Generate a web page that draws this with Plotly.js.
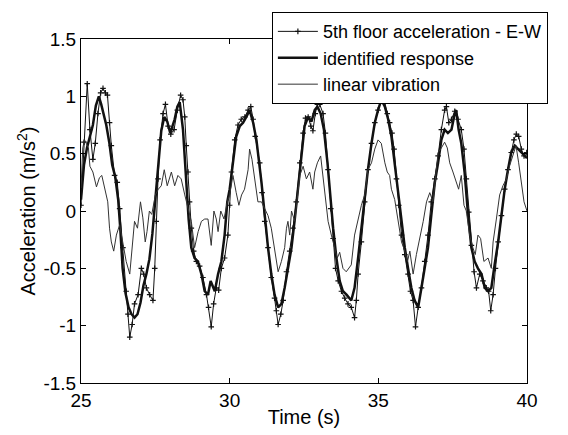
<!DOCTYPE html>
<html>
<head>
<meta charset="utf-8">
<script src="https://cdn.plot.ly/plotly-3.0.1.min.js"></script>
<style>html,body{margin:0;padding:0;background:#fff;}#chart{width:568px;height:435px;}</style>
</head>
<body>
<div id="chart"></div>
<script>
// 5th floor acceleration - E-W (measured, with markers)
const timeMeasured = [25.0,25.1,25.21,25.3,25.4,25.48,25.57,25.66,25.74,25.82,25.89,25.96,26.02,26.13,26.22,26.3,26.41,26.52,26.58,26.64,26.72,26.8,26.92,27.03,27.11,27.2,27.31,27.42,27.48,27.53,27.59,27.66,27.76,27.84,27.93,28.02,28.13,28.24,28.35,28.43,28.49,28.54,28.6,28.65,28.71,28.79,28.88,28.99,29.1,29.22,29.29,29.38,29.46,29.55,29.63,29.72,29.83,29.94,30.0,30.06,30.17,30.28,30.39,30.51,30.62,30.71,30.79,30.86,31.01,31.09,31.18,31.29,31.4,31.51,31.57,31.63,31.72,31.8,31.91,32.02,32.13,32.24,32.36,32.47,32.55,32.64,32.73,32.8,32.88,32.95,33.03,33.14,33.22,33.31,33.4,33.48,33.56,33.65,33.76,33.87,33.98,34.09,34.2,34.26,34.32,34.43,34.54,34.65,34.77,34.88,34.99,35.1,35.16,35.22,35.3,35.38,35.46,35.53,35.61,35.69,35.78,35.89,36.0,36.08,36.17,36.25,36.34,36.45,36.56,36.67,36.78,36.9,37.01,37.12,37.23,37.29,37.37,37.46,37.57,37.68,37.79,37.88,37.96,38.04,38.13,38.22,38.3,38.41,38.52,38.63,38.71,38.78,38.86,38.94,39.03,39.14,39.25,39.36,39.47,39.56,39.64,39.72,39.81,39.9,39.99];
const accelMeasured = [0.05,0.6,1.11,0.71,0.45,0.59,0.85,1.03,1.07,1.03,1.01,0.77,0.57,0.31,0.25,0.02,-0.32,-0.7,-0.9,-1.1,-0.99,-0.81,-0.73,-0.5,-0.55,-0.67,-0.73,-0.78,-0.5,-0.09,0.28,0.62,0.85,0.93,0.74,0.67,0.71,0.88,1.01,0.97,0.82,0.57,0.34,0.08,-0.15,-0.35,-0.44,-0.48,-0.58,-0.73,-0.84,-1.01,-0.81,-0.67,-0.69,-0.5,-0.41,-0.21,0.05,0.34,0.62,0.75,0.8,0.82,0.88,0.91,0.8,0.65,0.42,0.16,-0.09,-0.32,-0.58,-0.76,-0.87,-0.99,-0.9,-0.78,-0.53,-0.35,-0.15,0.08,0.42,0.68,0.81,0.82,0.74,0.7,0.85,0.93,0.93,0.85,0.68,0.36,0.02,-0.24,-0.5,-0.61,-0.7,-0.76,-0.81,-0.84,-0.93,-0.78,-0.55,-0.27,0.08,0.36,0.59,0.77,0.88,0.97,1.01,0.94,0.85,0.77,0.68,0.54,0.28,0.05,-0.21,-0.38,-0.55,-0.7,-0.78,-1.01,-0.84,-0.67,-0.44,-0.21,0.08,0.28,0.48,0.71,0.88,0.91,0.77,0.8,0.87,0.8,0.71,0.54,0.28,-0.01,-0.3,-0.53,-0.67,-0.55,-0.61,-0.67,-0.7,-0.87,-0.73,-0.5,-0.27,-0.04,0.19,0.36,0.51,0.62,0.67,0.65,0.54,0.48,0.51];

// identified response (thick line)
const timeIdentified = [25.0,25.1,25.2,25.3,25.4,25.5,25.6,25.68,25.75,25.85,25.95,26.05,26.15,26.25,26.32,26.4,26.5,26.6,26.7,26.8,26.9,27.0,27.1,27.2,27.3,27.4,27.5,27.6,27.7,27.8,27.9,28.0,28.15,28.24,28.32,28.43,28.54,28.62,28.71,28.82,28.93,29.05,29.16,29.27,29.36,29.5,29.61,29.72,29.83,29.92,30.0,30.11,30.22,30.34,30.45,30.56,30.67,30.79,30.9,31.07,31.18,31.29,31.4,31.51,31.63,31.74,31.85,31.96,32.08,32.19,32.3,32.41,32.52,32.64,32.75,32.86,32.95,33.06,33.17,33.29,33.38,33.48,33.59,33.7,33.81,33.93,34.09,34.2,34.32,34.43,34.54,34.65,34.77,34.88,34.99,35.1,35.22,35.33,35.44,35.55,35.66,35.78,35.89,36.0,36.11,36.22,36.34,36.45,36.56,36.67,36.78,36.9,37.01,37.12,37.23,37.34,37.46,37.57,37.62,37.7,37.79,37.9,38.02,38.13,38.24,38.35,38.47,38.58,38.69,38.8,38.91,39.03,39.14,39.25,39.36,39.47,39.59,39.7,39.81,39.92,40.0];
const accelIdentified = [0.1,0.4,0.55,0.65,0.75,0.92,1.0,0.93,0.85,0.75,0.6,0.4,0.3,0.1,-0.15,-0.5,-0.72,-0.84,-0.9,-0.93,-0.9,-0.8,-0.65,-0.55,-0.42,-0.2,0.1,0.42,0.7,0.82,0.78,0.68,0.8,0.91,0.95,0.71,0.28,-0.07,-0.32,-0.41,-0.44,-0.55,-0.7,-0.73,-0.61,-0.7,-0.55,-0.44,-0.21,0.08,0.19,0.42,0.65,0.74,0.77,0.82,0.88,0.77,0.62,0.25,-0.07,-0.32,-0.55,-0.73,-0.84,-0.81,-0.67,-0.5,-0.32,-0.07,0.19,0.48,0.74,0.82,0.78,0.88,0.91,0.85,0.71,0.42,0.14,-0.15,-0.41,-0.61,-0.7,-0.73,-0.78,-0.67,-0.41,-0.15,0.14,0.36,0.59,0.77,0.88,0.97,0.91,0.8,0.65,0.42,0.14,-0.09,-0.32,-0.5,-0.67,-0.78,-0.84,-0.67,-0.5,-0.32,-0.04,0.25,0.42,0.62,0.71,0.68,0.71,0.85,0.88,0.71,0.59,0.34,-0.04,-0.32,-0.44,-0.5,-0.55,-0.67,-0.7,-0.67,-0.47,-0.27,-0.04,0.19,0.36,0.51,0.57,0.54,0.51,0.48,0.46];

// linear vibration (thin line)
const timeLinear = [25.0,25.06,25.12,25.2,25.25,25.3,25.4,25.52,25.62,25.7,25.8,25.9,25.96,26.02,26.1,26.19,26.3,26.41,26.52,26.64,26.72,26.8,26.9,27.0,27.08,27.16,27.22,27.3,27.38,27.5,27.6,27.7,27.8,27.9,28.04,28.15,28.26,28.37,28.49,28.6,28.71,28.82,28.94,29.05,29.16,29.27,29.38,29.47,29.55,29.61,29.7,29.81,29.92,30.0,30.11,30.22,30.31,30.4,30.5,30.62,30.67,30.75,30.86,30.95,31.07,31.18,31.29,31.4,31.51,31.57,31.63,31.74,31.85,31.91,31.96,32.02,32.08,32.19,32.28,32.36,32.47,32.58,32.69,32.8,32.86,32.95,33.06,33.14,33.2,33.31,33.42,33.53,33.62,33.7,33.81,33.92,34.09,34.2,34.32,34.43,34.54,34.65,34.77,34.88,34.99,35.1,35.22,35.3,35.38,35.44,35.55,35.66,35.78,35.89,35.98,36.06,36.17,36.28,36.4,36.51,36.62,36.73,36.84,36.92,37.01,37.12,37.23,37.32,37.4,37.51,37.63,37.7,37.79,37.88,37.96,38.07,38.18,38.26,38.35,38.44,38.55,38.69,38.8,38.86,38.97,39.08,39.19,39.31,39.41,39.52,39.63,39.72,39.81,39.9,40.0];
const accelLinear = [0.2,0.55,0.62,0.57,0.55,0.39,0.34,0.21,0.29,0.31,0.19,0.08,-0.15,-0.27,-0.35,-0.21,-0.12,-0.3,-0.44,-0.55,-0.32,-0.09,-0.15,0.08,-0.06,-0.27,-0.18,0.0,-0.03,0.14,0.19,0.22,0.36,0.22,0.34,0.22,0.31,0.28,0.14,0.02,-0.09,-0.32,-0.18,-0.09,-0.07,-0.07,-0.3,0.0,-0.07,-0.18,0.0,-0.07,0.08,0.14,0.31,0.16,0.05,0.14,0.19,0.36,0.54,0.45,0.22,0.08,0.08,0.02,-0.04,-0.15,-0.32,-0.44,-0.53,-0.44,-0.32,-0.15,-0.09,-0.21,0.0,-0.09,0.14,0.31,0.39,0.28,0.34,0.19,0.34,0.42,0.48,0.28,0.14,-0.09,-0.21,-0.32,-0.41,-0.36,-0.5,-0.53,-0.47,-0.21,-0.07,0.05,0.14,0.36,0.42,0.54,0.62,0.59,0.42,0.34,0.31,0.19,0.1,-0.07,-0.27,-0.35,-0.44,-0.35,-0.55,-0.38,-0.24,-0.09,0.08,0.16,0.08,0.31,0.51,0.55,0.6,0.55,0.42,0.34,0.25,0.19,0.31,0.05,0.0,-0.21,-0.32,-0.38,-0.21,-0.24,-0.44,-0.41,-0.5,-0.27,-0.07,0.14,0.22,0.28,0.39,0.48,0.57,0.42,0.25,0.08,0.0];

const seriesNames = ['5th floor acceleration - E-W', 'identified response', 'linear vibration'];
const xTicks = [25, 30, 35, 40];
const yTicks = [-1.5, -1, -0.5, 0, 0.5, 1, 1.5];

const FONT = 'Liberation Sans, Arial, Helvetica, sans-serif';

const traces = [
  {x: timeMeasured, y: accelMeasured, name: seriesNames[0], type: 'scatter', mode: 'lines+markers',
   line: {color: '#111', width: 1}, marker: {symbol: 'cross-thin', size: 4, color: '#111', line: {color: '#111', width: 1.2}}},
  {x: timeIdentified, y: accelIdentified, name: seriesNames[1], type: 'scatter', mode: 'lines',
   line: {color: '#111', width: 2.5}},
  {x: timeLinear, y: accelLinear, name: seriesNames[2], type: 'scatter', mode: 'lines',
   line: {color: '#333', width: 1}}
];

const axisCommon = {
  showline: true, mirror: 'ticks', linecolor: '#000', linewidth: 1,
  ticks: 'inside', ticklen: 5, tickcolor: '#000', tickwidth: 1,
  showgrid: false, zeroline: false,
  tickfont: {family: FONT, size: 19, color: '#000'}
};

const layout = {
  width: 568, height: 435,
  margin: {l: 81, r: 41, t: 35, b: 52},
  paper_bgcolor: '#fff', plot_bgcolor: '#fff',
  font: {family: FONT, color: '#000'},
  xaxis: Object.assign({}, axisCommon, {
    range: [25, 40], tickvals: xTicks, ticktext: xTicks.map(String),
    title: {text: 'Time (s)', font: {family: FONT, size: 20, color: '#000'}, standoff: 0}
  }),
  yaxis: Object.assign({}, axisCommon, {
    range: [-1.5, 1.5], tickvals: yTicks, ticktext: yTicks.map(String),
    title: {text: 'Acceleration (m/s<sup>2</sup>)', font: {family: FONT, size: 20, color: '#000'}, standoff: 2}
  }),
  showlegend: true,
  legend: {
    x: 0.428, y: 1.078, xanchor: 'left', yanchor: 'top',
    bgcolor: '#fff', bordercolor: '#000', borderwidth: 1,
    font: {family: FONT, size: 18, color: '#000'},
    tracegroupgap: 0, itemwidth: 40
  }
};

Plotly.newPlot('chart', traces, layout, {displayModeBar: false, staticPlot: true});
</script>
</body>
</html>
